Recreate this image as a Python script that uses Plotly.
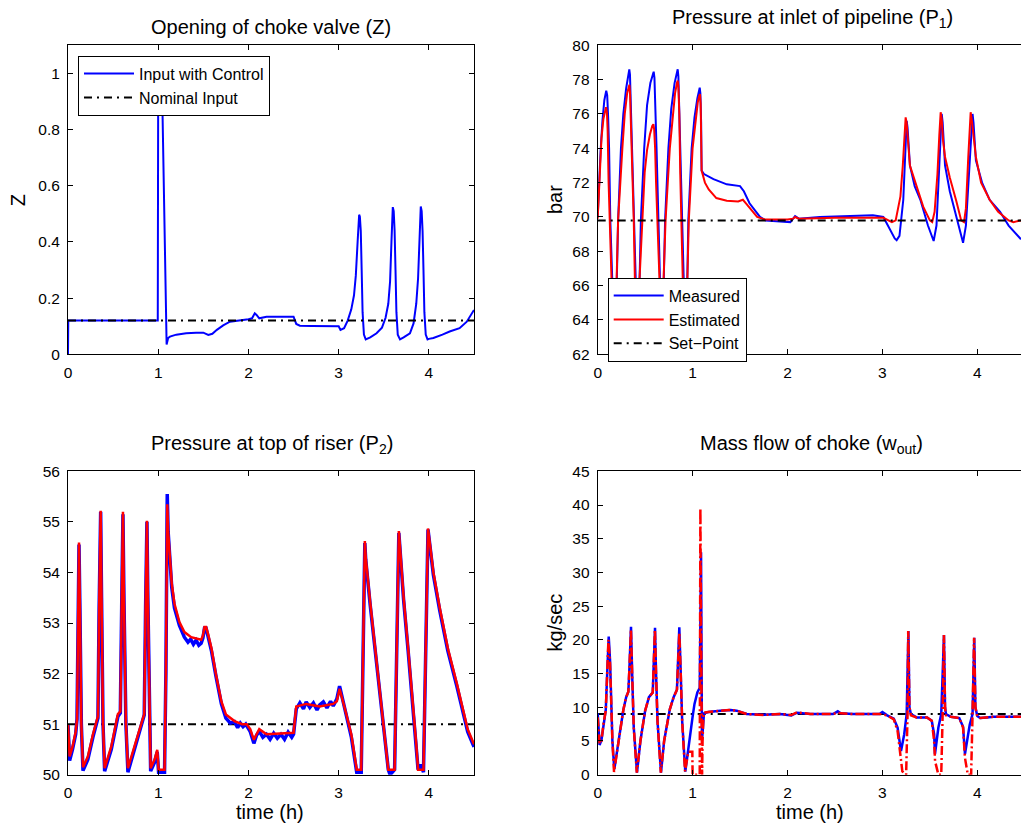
import plotly.graph_objects as go

# ---------------- Data ----------------
# Opening of choke valve (Z)
z_t = [0, 0.003, 0.995, 1.0, 1.04, 1.045, 1.056, 1.075, 1.093, 1.11, 1.13, 1.2, 1.31, 1.42, 1.5, 1.555,
       1.6, 1.65, 1.72, 1.795, 1.9, 2.0, 2.04, 2.07, 2.09, 2.12, 2.2, 2.35, 2.5, 2.53, 2.57, 2.7, 2.94,
       3.0, 3.02, 3.06, 3.10, 3.14, 3.17, 3.19, 3.21, 3.22, 3.227, 3.235, 3.245, 3.255, 3.265, 3.28, 3.30,
       3.35, 3.42, 3.48, 3.52, 3.55, 3.57, 3.585, 3.595, 3.60, 3.61, 3.62, 3.63, 3.64, 3.655, 3.68,
       3.72, 3.79, 3.83, 3.86, 3.88, 3.895, 3.905, 3.91, 3.92, 3.93, 3.94, 3.95, 3.965, 3.985, 4.0,
       4.05, 4.15, 4.23, 4.34, 4.42, 4.5]
z_ctrl = [0, 0.12, 0.12, 1.0, 1.0, 0.9, 0.73, 0.43, 0.035, 0.058, 0.063, 0.07, 0.075, 0.077, 0.077, 0.069,
          0.073, 0.087, 0.103, 0.116, 0.12, 0.125, 0.128, 0.146, 0.14, 0.128, 0.134, 0.133, 0.134, 0.108, 0.102, 0.101, 0.101,
          0.1, 0.087, 0.093, 0.12, 0.16, 0.21, 0.28, 0.4, 0.47, 0.497, 0.49, 0.44, 0.3, 0.15, 0.07, 0.053,
          0.06, 0.075, 0.095, 0.13, 0.18, 0.26, 0.4, 0.5, 0.524, 0.51, 0.44, 0.3, 0.15, 0.07, 0.053,
          0.06, 0.075, 0.11, 0.18, 0.27, 0.4, 0.5, 0.526, 0.51, 0.44, 0.3, 0.15, 0.07, 0.053, 0.055,
          0.058, 0.07, 0.081, 0.093, 0.116, 0.158]
z_nom_t = [0, 4.5]
z_nom = [0.12, 0.12]

# Pressure at inlet of pipeline (P1)
p1m_t = [0, 0.015, 0.03, 0.05, 0.07, 0.09, 0.1, 0.11, 0.12, 0.133, 0.15, 0.17, 0.19, 0.205, 0.215, 0.245,
         0.27, 0.3, 0.32, 0.333, 0.34, 0.35, 0.357, 0.38, 0.40, 0.415, 0.43, 0.44, 0.455, 0.49, 0.52, 0.555,
         0.58, 0.59, 0.598, 0.61, 0.62, 0.64, 0.655, 0.67, 0.685, 0.695, 0.71, 0.745, 0.775, 0.81, 0.832,
         0.843, 0.85, 0.86, 0.87, 0.89, 0.905, 0.92, 0.935, 0.945, 0.955, 0.99, 1.02, 1.05, 1.068, 1.075,
         1.082, 1.09, 1.095, 1.12, 1.22, 1.36, 1.5, 1.54, 1.6, 1.71, 1.77, 1.9, 2.0, 2.03, 2.08, 2.12, 2.34,
         2.69, 2.9, 3.01, 3.08, 3.13, 3.15, 3.18, 3.22, 3.24, 3.25, 3.256, 3.265, 3.29, 3.34, 3.40, 3.48,
         3.54, 3.57, 3.60, 3.615, 3.625, 3.635, 3.66, 3.71, 3.78, 3.85, 3.88, 3.92, 3.94, 3.95, 3.96,
         3.985, 4.05, 4.13, 4.24, 4.33, 4.46]
p1m = [70.0, 72.0, 73.8, 75.6, 76.8, 77.36, 77.1, 75.8, 74.0, 69.8, 66.5, 63.5, 63.5, 66.5, 69.8, 74.0,
       76.0, 77.5, 78.3, 78.6, 78.3, 76.5, 74.0, 69.8, 66.5, 63.5, 63.5, 66.5, 69.8, 74.0, 76.5, 77.8,
       78.4, 78.46, 78.1, 76.3, 74.0, 69.8, 66.5, 63.5, 63.5, 66.5, 69.8, 74.0, 76.3, 77.8, 78.4,
       78.6, 78.2, 76.5, 74.0, 69.8, 66.5, 63.5, 63.5, 66.5, 69.8, 74.0, 75.8, 76.9, 77.4, 77.53,
       77.2, 75.5, 72.7, 72.5, 72.2, 71.9, 71.8, 71.5, 70.8, 70.0, 69.8, 69.75, 69.75, 69.7, 70.05, 69.9, 70.0,
       70.05, 70.1, 70.0, 69.3, 68.75, 68.65, 68.9, 71.0, 73.5, 75.0, 75.6, 75.2, 73.0, 71.8, 71.0, 69.5,
       68.6, 69.5, 73.5, 75.5, 76.0, 75.5, 73.0, 71.5, 70.0, 68.5, 69.5, 73.5, 75.4, 76.0, 75.5,
       73.3, 72.0, 71.0, 70.3, 69.5, 68.7]
p1e_t = [0, 0.02, 0.04, 0.06, 0.075, 0.088, 0.097, 0.105, 0.115, 0.13, 0.145, 0.16, 0.18, 0.2, 0.215, 0.26,
         0.285, 0.31, 0.325, 0.334, 0.34, 0.35, 0.36, 0.38, 0.40, 0.41, 0.42, 0.44, 0.47, 0.495, 0.52, 0.55,
         0.575, 0.587, 0.595, 0.605, 0.615, 0.63, 0.65, 0.665, 0.68, 0.695, 0.715, 0.76, 0.79, 0.815, 0.835,
         0.843, 0.85, 0.86, 0.87, 0.88, 0.895, 0.91, 0.93, 0.945, 0.96, 1.0, 1.03, 1.055, 1.07, 1.078,
         1.085, 1.09, 1.095, 1.13, 1.17, 1.25, 1.36, 1.48, 1.53, 1.56, 1.68, 1.76, 2.0, 2.06, 2.08, 2.12, 2.5,
         3.01, 3.05, 3.10, 3.14, 3.19, 3.215, 3.235, 3.245, 3.255, 3.27, 3.29, 3.36, 3.43, 3.50, 3.525,
         3.55, 3.58, 3.60, 3.614, 3.625, 3.64, 3.66, 3.71, 3.78, 3.83, 3.86, 3.88, 3.905, 3.92, 3.93,
         3.945, 3.985, 4.04, 4.13, 4.22, 4.33, 4.38, 4.46]
p1e = [69.9, 72.5, 74.6, 75.7, 76.2, 76.4, 76.1, 75.0, 72.0, 69.8, 66.5, 63.2, 63.0, 66.5, 69.8, 74.0,
       76.0, 77.2, 77.6, 77.7, 77.3, 75.5, 72.5, 69.8, 64.0, 62.3, 64.0, 66.5, 69.8, 72.6, 73.9, 74.8,
       75.3, 75.4, 75.1, 74.0, 72.0, 69.8, 66.5, 63.2, 63.0, 66.5, 69.8, 74.0, 76.0, 77.2, 77.8,
       77.94, 77.6, 76.0, 72.5, 69.8, 66.5, 63.2, 63.0, 66.5, 69.8, 74.0, 75.7, 76.7, 77.05, 77.16,
       76.6, 74.8, 72.7, 72.0, 71.6, 71.1, 70.95, 70.9, 71.0, 70.8, 70.0, 69.85, 69.85, 69.9, 70.0, 69.9, 69.95,
       69.95, 69.85, 69.7, 69.8, 71.2, 73.0, 75.0, 75.8, 75.5, 74.2, 73.0, 71.8, 70.6, 69.8, 69.7,
       70.3, 72.5, 74.8, 76.1, 75.7, 74.4, 73.5, 72.3, 70.9, 69.8, 69.7, 70.5, 73.5, 75.5, 76.1,
       75.5, 73.5, 72.0, 71.0, 70.3, 69.8, 69.7, 69.8]
p1_sp_t = [0, 4.5]
p1_sp = [69.8, 69.8]

# Pressure at top of riser (P2)
p2e_t = [0, 0.018, 0.05, 0.085, 0.1, 0.11, 0.122, 0.132, 0.148, 0.166, 0.22, 0.277, 0.332, 0.345, 0.362,
         0.372, 0.388, 0.406, 0.48, 0.553, 0.58, 0.595, 0.609, 0.62, 0.642, 0.664, 0.738, 0.83, 0.845, 0.86,
         0.875, 0.885, 0.902, 0.916, 0.96, 0.989, 1.004, 1.07, 1.085, 1.1, 1.11, 1.126, 1.15, 1.18, 1.235,
         1.29, 1.365, 1.476, 1.495, 1.513, 1.53, 1.55, 1.59, 1.64, 1.7, 1.75, 1.845, 1.93, 1.98, 2.02, 2.06,
         2.09, 2.12, 2.2, 2.35, 2.5, 2.53, 2.64, 2.79, 2.94, 2.98, 3.01, 3.07, 3.14, 3.2, 3.25, 3.29, 3.30,
         3.35, 3.40, 3.45, 3.50, 3.55, 3.62, 3.667, 3.68, 3.72, 3.77, 3.82, 3.86, 3.88, 3.94, 3.99, 4.05,
         4.12, 4.21, 4.31, 4.38, 4.43, 4.5]
p2e = [51.0, 50.36, 50.55, 50.85, 51.1, 53.2, 54.59, 53.3, 51.0, 50.15, 50.36, 50.8, 51.16, 53.3, 55.22,
       53.5, 51.0, 50.13, 50.56, 51.2, 51.25, 53.3, 55.2, 53.5, 51.0, 50.13, 50.56, 51.14, 51.2, 53.3,
       55.02, 53.5, 51.0, 50.13, 50.3, 50.49, 50.1, 50.1, 52.0, 55.35, 54.8, 54.31, 53.78, 53.38, 53.02,
       52.82, 52.72, 52.67, 52.75, 52.92, 52.92, 52.8, 52.5, 51.98, 51.45, 51.19, 51.06, 51.0, 51.0, 50.9, 50.69,
       50.8, 50.9, 50.8, 50.82, 50.83, 51.35, 51.4, 51.35, 51.4, 51.45, 51.7, 51.3, 50.8, 50.1, 50.1, 54.62, 54.3,
       53.4, 52.6, 51.7, 50.9, 50.1, 50.1, 54.82, 54.5, 53.5, 52.5, 51.5, 50.6, 50.1, 50.1, 54.87, 54.0,
       53.3, 52.5, 51.8, 51.3, 50.9, 50.6]
p2m_t = [0, 0.018, 0.05, 0.085, 0.1, 0.11, 0.122, 0.132, 0.148, 0.166, 0.22, 0.277, 0.332, 0.345, 0.362,
         0.372, 0.388, 0.406, 0.48, 0.553, 0.58, 0.595, 0.609, 0.62, 0.642, 0.664, 0.738, 0.83, 0.845, 0.86,
         0.875, 0.885, 0.902, 0.916, 0.96, 0.989, 1.004, 1.07, 1.085, 1.1, 1.11, 1.126, 1.15, 1.18, 1.235,
         1.29, 1.33, 1.36, 1.39, 1.42, 1.45, 1.476, 1.495, 1.513, 1.53, 1.55, 1.59, 1.64, 1.7, 1.75,
         1.8, 1.845, 1.88, 1.91, 1.94, 1.97, 2.0, 2.02, 2.06, 2.09, 2.12, 2.16, 2.2, 2.24, 2.28, 2.32, 2.36,
         2.40, 2.44, 2.48, 2.5, 2.53, 2.57, 2.61, 2.64, 2.68, 2.72, 2.76, 2.79, 2.83, 2.87, 2.91, 2.94, 2.98,
         3.01, 3.07, 3.14, 3.2, 3.25, 3.29, 3.30, 3.35, 3.40, 3.45, 3.50, 3.55, 3.57, 3.62, 3.667, 3.68, 3.72,
         3.77, 3.82, 3.86, 3.88, 3.91, 3.94, 3.99, 4.05, 4.12, 4.21, 4.31, 4.38, 4.43, 4.5]
p2m = [51.0, 50.28, 50.5, 50.8, 51.1, 53.2, 54.55, 53.3, 51.0, 50.08, 50.3, 50.75, 51.12, 53.3, 55.2,
       53.5, 51.0, 50.07, 50.5, 51.15, 51.22, 53.3, 55.15, 53.5, 51.0, 50.05, 50.5, 51.1, 51.18, 53.3,
       55.0, 53.5, 51.0, 50.07, 50.25, 50.45, 50.05, 50.05, 52.0, 55.55, 54.8, 54.25, 53.7, 53.3, 52.95,
       52.72, 52.62, 52.68, 52.58, 52.66, 52.56, 52.6, 52.7, 52.9, 52.9, 52.75, 52.45, 51.95, 51.4, 51.12,
       51.02, 51.05, 50.93, 51.02, 50.95, 51.0, 50.92, 50.85, 50.62, 50.78, 50.86, 50.74, 50.8, 50.7, 50.82,
       50.72, 50.8, 50.7, 50.84, 50.74, 50.8, 51.3, 51.42, 51.3, 51.44, 51.33, 51.42, 51.28, 51.38, 51.44,
       51.32, 51.45, 51.36, 51.5, 51.75, 51.3, 50.75, 50.05, 50.05, 54.58, 54.25, 53.35, 52.55, 51.65, 50.85,
       50.1, 50.0, 50.1, 54.78, 54.45, 53.45, 52.45, 51.45, 50.55, 50.1, 50.2, 50.05, 54.85, 53.95, 53.25,
       52.45, 51.75, 51.25, 50.85, 50.55]
p2_sp_t = [0, 4.5]
p2_sp = [51.0, 51.0]

# Mass flow of choke (w_out)
wm_t = [0, 0.02, 0.04, 0.06, 0.085, 0.1, 0.116, 0.13, 0.14, 0.155, 0.175, 0.22, 0.27, 0.3, 0.323, 0.335,
        0.351, 0.365, 0.38, 0.414, 0.45, 0.5, 0.54, 0.58, 0.59, 0.604, 0.615, 0.63, 0.667, 0.7, 0.76, 0.8,
        0.835, 0.845, 0.86, 0.875, 0.89, 0.923, 0.96, 0.99, 1.0, 1.02, 1.05, 1.075, 1.082, 1.089, 1.095,
        1.099, 1.12, 1.166, 1.29, 1.4, 1.465, 1.57, 1.75, 1.92, 2.04, 2.1, 2.24, 2.48, 2.53, 2.56, 2.69,
        2.97, 3.0, 3.05, 3.12, 3.16, 3.196, 3.23, 3.256, 3.274, 3.285, 3.30, 3.36, 3.47, 3.52, 3.545,
        3.554, 3.59, 3.62, 3.649, 3.66, 3.67, 3.72, 3.78, 3.81, 3.85, 3.87, 3.92, 3.95, 3.968, 3.98, 4.0,
        4.03, 4.1, 4.17, 4.46]
wm = [9.1, 4.4, 5.2, 7.5, 9.6, 15.0, 20.5, 17.0, 11.0, 5.0, 0.8, 5.0, 9.6, 11.5, 12.3, 16.0,
      21.95, 14.0, 7.0, 0.3, 5.0, 9.5, 11.5, 12.2, 16.0, 21.8, 15.0, 8.0, 0.3, 5.0, 9.7, 11.5,
      12.6, 16.0, 21.85, 15.0, 8.0, 0.45, 4.5, 8.3, 8.6, 10.5, 12.2, 12.9, 20.0, 33.0, 15.0,
      5.1, 9.1, 9.3, 9.5, 9.6, 9.5, 9.0, 8.9, 9.0, 8.8, 9.2, 9.0, 9.0, 9.4, 9.1, 9.0,
      9.0, 9.3, 8.8, 8.3, 7.0, 3.5, 6.0, 9.0, 21.3, 10.0, 9.0, 8.5, 8.5, 8.0, 6.0,
      3.07, 7.0, 9.0, 20.7, 10.0, 9.0, 8.6, 8.5, 8.4, 7.1, 3.07, 7.4, 9.0, 20.3, 10.0, 8.7,
      8.4, 8.5, 8.6, 8.6]
we_t = [0, 0.02, 0.04, 0.06, 0.085, 0.1, 0.113, 0.13, 0.14, 0.155, 0.172, 0.22, 0.27, 0.3, 0.323, 0.335,
        0.35, 0.365, 0.38, 0.412, 0.45, 0.5, 0.54, 0.58, 0.59, 0.603, 0.615, 0.63, 0.665, 0.7, 0.76, 0.8,
        0.835, 0.845, 0.86, 0.875, 0.89, 0.92, 0.955, 0.997, 1.0, 1.075, 1.082, 1.09, 1.095, 1.1, 1.105,
        1.115, 1.166, 1.29, 1.38, 1.465, 1.57, 1.75, 1.92, 2.04, 2.1, 2.24, 2.48, 2.53, 2.56, 2.69, 2.97,
        3.05, 3.12, 3.16, 3.196, 3.21, 3.25, 3.265, 3.272, 3.285, 3.30, 3.36, 3.47, 3.52, 3.545, 3.555,
        3.59, 3.62, 3.635, 3.648, 3.66, 3.67, 3.72, 3.78, 3.81, 3.85, 3.87, 3.90, 3.935, 3.95, 3.966,
        3.98, 4.0, 4.03, 4.17, 4.46]
we = [8.5, 4.6, 5.0, 7.5, 9.5, 15.0, 20.0, 16.5, 11.0, 5.0, 0.4, 5.0, 9.6, 11.5, 12.3, 16.0,
      21.5, 14.0, 7.0, 0.3, 5.0, 9.5, 11.5, 12.2, 16.0, 21.5, 15.0, 8.0, 0.3, 5.0, 9.7, 11.5,
      12.6, 16.0, 21.0, 15.0, 8.0, 0.5, 3.4, 3.4, 0.0, 0.0, 39.5, 20.0, 5.0, 0.0, 5.0,
      9.2, 9.3, 9.5, 9.6, 9.5, 9.0, 8.85, 9.0, 8.85, 9.25, 9.0, 9.0, 9.2, 9.1, 9.0, 9.0,
      8.8, 8.2, 6.5, 2.0, 0.5, 0.0, 9.0, 21.3, 10.0, 8.8, 8.5, 8.5, 8.0, 5.0, 2.0,
      0.0, 0.0, 9.0, 20.7, 10.0, 8.8, 8.6, 8.5, 8.4, 7.0, 2.5, 0.0, 0.0, 9.0, 20.3,
      10.0, 8.6, 8.4, 8.6, 8.6]
w_sp_t = [0, 4.5]
w_sp = [9.0, 9.0]

x_ticks = [0, 1, 2, 3, 4]

# ---------------- Figure ----------------
W, H = 1021, 829
FONT = "Liberation Sans, Arial, sans-serif"
BLUE, RED, BLACK = "#0000FF", "#FF0000", "#000000"
DASHDOT = "8px,5px,2px,5px"

def px_x(p):
    return p / W

def px_y(p):
    return 1 - p / H

fig = go.Figure()

# top-left
fig.add_trace(go.Scatter(x=z_t, y=z_ctrl, mode="lines", name="Input with Control",
                         line=dict(color=BLUE, width=2), xaxis="x", yaxis="y", legend="legend"))
fig.add_trace(go.Scatter(x=z_nom_t, y=z_nom, mode="lines", name="Nominal Input",
                         line=dict(color=BLACK, width=2, dash=DASHDOT), xaxis="x", yaxis="y", legend="legend"))
# top-right
fig.add_trace(go.Scatter(x=p1m_t, y=p1m, mode="lines", name="Measured",
                         line=dict(color=BLUE, width=2), xaxis="x2", yaxis="y2", legend="legend2"))
fig.add_trace(go.Scatter(x=p1e_t, y=p1e, mode="lines", name="Estimated",
                         line=dict(color=RED, width=2), xaxis="x2", yaxis="y2", legend="legend2"))
fig.add_trace(go.Scatter(x=p1_sp_t, y=p1_sp, mode="lines", name="Set\u2212Point",
                         line=dict(color=BLACK, width=2, dash=DASHDOT), xaxis="x2", yaxis="y2", legend="legend2"))
# bottom-left
fig.add_trace(go.Scatter(x=p2_sp_t, y=p2_sp, mode="lines", showlegend=False,
                         line=dict(color=BLACK, width=2, dash=DASHDOT), xaxis="x3", yaxis="y3"))
fig.add_trace(go.Scatter(x=p2m_t, y=p2m, mode="lines", showlegend=False,
                         line=dict(color=BLUE, width=3.5), xaxis="x3", yaxis="y3"))
fig.add_trace(go.Scatter(x=p2e_t, y=p2e, mode="lines", showlegend=False,
                         line=dict(color=RED, width=2.5), xaxis="x3", yaxis="y3"))
# bottom-right
fig.add_trace(go.Scatter(x=w_sp_t, y=w_sp, mode="lines", showlegend=False,
                         line=dict(color=BLACK, width=2, dash=DASHDOT), xaxis="x4", yaxis="y4"))
fig.add_trace(go.Scatter(x=wm_t, y=wm, mode="lines", showlegend=False,
                         line=dict(color=BLUE, width=2.5), xaxis="x4", yaxis="y4"))
fig.add_trace(go.Scatter(x=we_t, y=we, mode="lines", showlegend=False,
                         line=dict(color=RED, width=2.5, dash="9px,3px,2px,3px"), xaxis="x4", yaxis="y4"))

tickfont = dict(family=FONT, size=15.5, color=BLACK)

def xax(domain, rng, anchor):
    return dict(domain=domain, range=rng, anchor=anchor, tickvals=x_ticks, ticks="inside", ticklen=5,
                tickwidth=1, tickcolor=BLACK, showline=True, linecolor=BLACK, linewidth=1, mirror="ticks",
                showgrid=False, zeroline=False, tickfont=tickfont, ticklabelstandoff=4, automargin=False)

def yax(domain, rng, anchor, tickvals, ticktext=None, mirror="ticks"):
    d = dict(domain=domain, range=rng, anchor=anchor, tickvals=tickvals, ticks="inside", ticklen=5,
             tickwidth=1, tickcolor=BLACK, showline=True, linecolor=BLACK, linewidth=1, mirror=mirror,
             showgrid=False, zeroline=False, tickfont=tickfont, ticklabelstandoff=4, automargin=False)
    if ticktext is not None:
        d["ticktext"] = ticktext
    return d

left_x = [px_x(68), px_x(474)]
right_x = [px_x(597.7), 1.0]
top_y = [px_y(354.3), px_y(45.3)]
bot_y = [px_y(774.7), px_y(471.3)]
right_xmax = (W - 597.7) / 94.9

z_ticks = [0, 0.2, 0.4, 0.6, 0.8, 1.0]
z_ticktext = ["0", "0.2", "0.4", "0.6", "0.8", "1"]
p1_ticks = [62, 64, 66, 68, 70, 72, 74, 76, 78, 80]
p2_ticks = [50, 51, 52, 53, 54, 55, 56]
w_ticks = [0, 5, 10, 15, 20, 25, 30, 35, 40, 45]

fig.update_layout(
    width=W, height=H, autosize=False,
    margin=dict(l=0, r=0, t=0, b=0, pad=0, autoexpand=False),
    paper_bgcolor="white", plot_bgcolor="white",
    font=dict(family=FONT, color=BLACK),
    xaxis=xax(left_x, [0, 4.5], "y"),
    yaxis=yax(top_y, [0, 1.1], "x", z_ticks, z_ticktext),
    xaxis2=xax(right_x, [0, right_xmax], "y2"),
    yaxis2=yax(top_y, [62, 80], "x2", p1_ticks, mirror=False),
    xaxis3=xax(left_x, [0, 4.5], "y3"),
    yaxis3=yax(bot_y, [50, 56], "x3", p2_ticks),
    xaxis4=xax(right_x, [0, right_xmax], "y4"),
    yaxis4=yax(bot_y, [0, 45], "x4", w_ticks, mirror=False),
    legend=dict(x=px_x(78), y=px_y(55.7), xanchor="left", yanchor="top", bgcolor="white",
                bordercolor=BLACK, borderwidth=1, font=dict(family=FONT, size=16, color=BLACK),
                tracegroupgap=0, itemwidth=50),
    legend2=dict(x=px_x(607.7), y=px_y(277.7), xanchor="left", yanchor="top", bgcolor="white",
                 bordercolor=BLACK, borderwidth=1, font=dict(family=FONT, size=16, color=BLACK),
                 tracegroupgap=0, itemwidth=50),
)

title_font = dict(family=FONT, size=20, color=BLACK)
annotations = [
    dict(text="Opening of choke valve (Z)", x=px_x(271), y=px_y(13.6), yanchor="top"),
    dict(text="Pressure at inlet of pipeline (P<sub>1</sub>)", x=px_x(812), y=px_y(4.2), yanchor="top"),
    dict(text="Pressure at top of riser (P<sub>2</sub>)", x=px_x(272), y=px_y(430.2), yanchor="top"),
    dict(text="Mass flow of choke (w<sub>out</sub>)", x=px_x(811), y=px_y(430.2), yanchor="top"),
    dict(text="time (h)", x=px_x(270.3), y=px_y(799), yanchor="top"),
    dict(text="time (h)", x=px_x(810.3), y=px_y(799), yanchor="top"),
    dict(text="Z", x=px_x(18.3), y=px_y(200), yanchor="middle", textangle=-90),
    dict(text="bar", x=px_x(555), y=px_y(200), yanchor="middle", textangle=-90),
    dict(text="kg/sec", x=px_x(554), y=px_y(622.5), yanchor="middle", textangle=-90),
]
for a in annotations:
    a.update(xref="paper", yref="paper", xanchor="center", showarrow=False, font=title_font)
fig.update_layout(annotations=annotations)

fig.write_html("out.html")
